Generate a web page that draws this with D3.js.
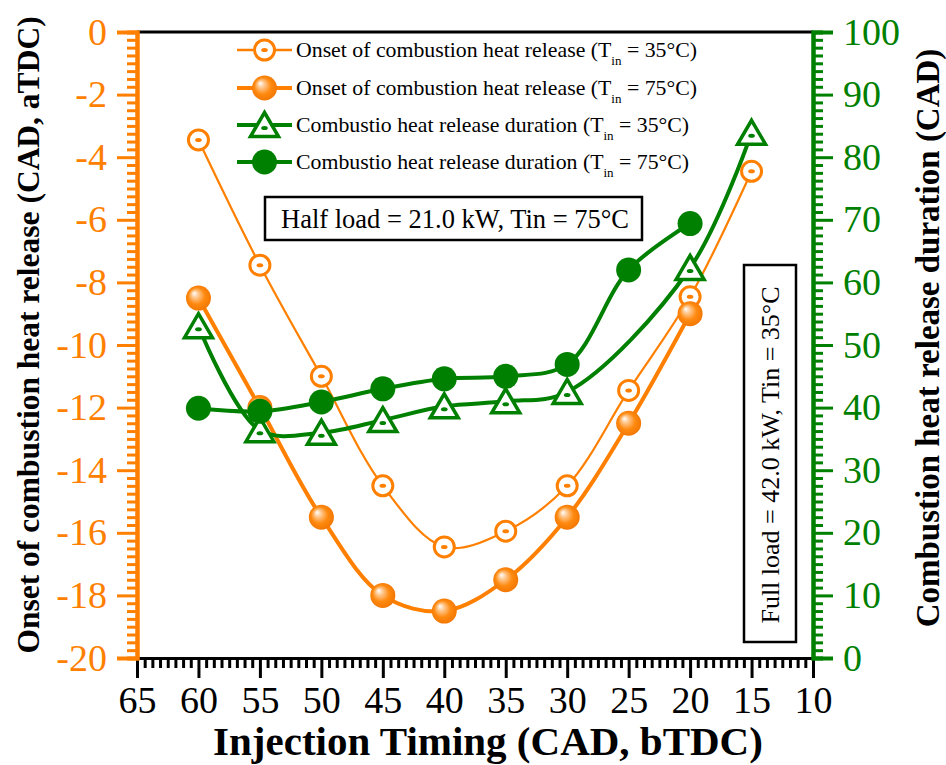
<!DOCTYPE html>
<html>
<head>
<meta charset="utf-8">
<script src="https://cdn.jsdelivr.net/npm/d3@7"></script>
<style>
  html, body { margin: 0; padding: 0; background: #fff; }
  svg { display: block; }
  text { font-family: "Liberation Serif", "Times New Roman", serif; }
</style>
</head>
<body>
<svg id="chart" width="946" height="765"></svg>
<script>
// ---------------- data ----------------
const xTickValues = [65, 60, 55, 50, 45, 40, 35, 30, 25, 20, 15, 10];
const yLeftTicks = [0, -2, -4, -6, -8, -10, -12, -14, -16, -18, -20];
const yRightTicks = [0, 10, 20, 30, 40, 50, 60, 70, 80, 90, 100];

const onsetTiming35 = [60, 55, 50, 45, 40, 35, 30, 25, 20, 15];
const onset35 = [-3.45, -7.45, -11.0, -14.5, -16.45, -15.95, -14.5, -11.45, -8.46, -4.45];

const onsetTiming75 = [60, 55, 50, 45, 40, 35, 30, 25, 20];
const onset75 = [-8.5, -12.0, -15.5, -18.0, -18.5, -17.5, -15.5, -12.5, -9.0];

const durTiming35 = [60, 55, 50, 45, 40, 35, 30, 20, 15];
const duration35 = [53.0, 36.4, 36.0, 38.0, 40.2, 41.0, 42.5, 62.3, 83.9];

const durTiming75 = [60, 55, 50, 45, 40, 35, 30, 25, 20];
const duration75 = [39.9, 39.4, 40.9, 43.0, 44.6, 45.0, 46.9, 62.0, 69.4];

const legendLabels = [
  ["Onset of combustion heat release (T", "in", " = 35°C)"],
  ["Onset of combustion heat release (T", "in", " = 75°C)"],
  ["Combustio heat release duration (T", "in", " = 35°C)"],
  ["Combustio heat release duration (T", "in", " = 75°C)"]
];
const halfLoadText = "Half load = 21.0 kW, Tin = 75°C";
const fullLoadText = "Full load = 42.0 kW, Tin = 35°C";
const xTitle = "Injection Timing (CAD, bTDC)";
const yLeftTitle = "Onset of combustion heat release (CAD, aTDC)";
const yRightTitle = "Combustion heat release duration (CAD)";

// ---------------- layout ----------------
const ORANGE = "#FF8000";
const GREEN = "#008000";
const L = 137, R = 813, T = 32, B = 658;

const svg = d3.select("#chart");

const x = d3.scaleLinear().domain([65, 10]).range([L, R]);
const yL = d3.scaleLinear().domain([0, -20]).range([T, B]);
const yR = d3.scaleLinear().domain([0, 100]).range([B, T]);

const fmt = d => String(d);  // plain hyphen-minus like the original

// gradient for shaded balls
const defs = svg.append("defs");
const grad = defs.append("radialGradient").attr("id", "ball")
  .attr("cx", "50%").attr("cy", "50%").attr("r", "55%")
  .attr("fx", "32%").attr("fy", "30%");
grad.append("stop").attr("offset", "0%").attr("stop-color", "#ffffff");
grad.append("stop").attr("offset", "25%").attr("stop-color", "#ffc890");
grad.append("stop").attr("offset", "60%").attr("stop-color", "#ff8a10");
grad.append("stop").attr("offset", "100%").attr("stop-color", "#f07400");

// ---------------- axes ----------------
function minorTicks(domainMin, domainMax, step) {
  const out = [];
  const n = Math.round((domainMax - domainMin) / step);
  for (let i = 0; i <= n; i++) out.push(+(domainMin + i * step).toFixed(4));
  return out;
}

// top border
svg.append("line").attr("x1", L).attr("x2", R).attr("y1", T).attr("y2", T)
  .attr("stroke", "#000").attr("stroke-width", 3);

// bottom axis
const xMinor = minorTicks(10, 65, 0.625).filter(v => xTickValues.indexOf(v) < 0);
const gxMinor = svg.append("g").attr("transform", `translate(0,${B})`)
  .call(d3.axisBottom(x).tickValues(xMinor).tickSize(10).tickFormat(""));
const gx = svg.append("g").attr("transform", `translate(0,${B})`)
  .call(d3.axisBottom(x).tickValues(xTickValues).tickSize(20).tickPadding(8).tickFormat(fmt));
[gxMinor, gx].forEach(g => {
  g.select(".domain").attr("stroke", "#000").attr("stroke-width", 3);
  g.selectAll(".tick line").attr("stroke", "#000").attr("stroke-width", 3);
});
gx.selectAll(".tick text").attr("fill", "#000").style("font-size", "38px");

// left axis
const yLMinor = minorTicks(-20, 0, 0.25).filter(v => yLeftTicks.indexOf(v) < 0);
const gyLMinor = svg.append("g").attr("transform", `translate(${L},0)`)
  .call(d3.axisLeft(yL).tickValues(yLMinor).tickSize(10).tickFormat(""));
const gyL = svg.append("g").attr("transform", `translate(${L},0)`)
  .call(d3.axisLeft(yL).tickValues(yLeftTicks).tickSize(20).tickPadding(10).tickFormat(fmt));
[gyLMinor, gyL].forEach(g => {
  g.select(".domain").attr("stroke", ORANGE).attr("stroke-width", 4);
  g.selectAll(".tick line").attr("stroke", ORANGE).attr("stroke-width", 3);
});
gyL.selectAll(".tick text").attr("fill", ORANGE).style("font-size", "38px");

// right axis
const yRMinor = minorTicks(0, 100, 1.25).filter(v => yRightTicks.indexOf(v) < 0);
const gyRMinor = svg.append("g").attr("transform", `translate(${R},0)`)
  .call(d3.axisRight(yR).tickValues(yRMinor).tickSize(10).tickFormat(""));
const gyR = svg.append("g").attr("transform", `translate(${R},0)`)
  .call(d3.axisRight(yR).tickValues(yRightTicks).tickSize(20).tickPadding(10).tickFormat(fmt));
[gyRMinor, gyR].forEach(g => {
  g.select(".domain").attr("stroke", GREEN).attr("stroke-width", 4);
  g.selectAll(".tick line").attr("stroke", GREEN).attr("stroke-width", 3);
});
gyR.selectAll(".tick text").attr("fill", GREEN).style("font-size", "38px");

// axis titles
svg.append("text").attr("x", 488).attr("y", 755).attr("text-anchor", "middle")
  .style("font-size", "41px").style("font-weight", "bold").text(xTitle);
svg.append("text").attr("transform", `translate(39,335) rotate(-90)`)
  .attr("text-anchor", "middle").style("font-size", "31.5px").style("font-weight", "bold").text(yLeftTitle);
svg.append("text").attr("transform", `translate(939,338) rotate(-90)`)
  .attr("text-anchor", "middle").style("font-size", "33px").style("font-weight", "bold").text(yRightTitle);

// ---------------- series ----------------
const curve = d3.curveCatmullRom.alpha(0.5);
function drawLine(xs, ys, yScale, color, width) {
  const pts = xs.map((d, i) => [x(d), yScale(ys[i])]);
  svg.append("path").attr("d", d3.line().curve(curve)(pts))
    .attr("fill", "none").attr("stroke", color).attr("stroke-width", width);
}
drawLine(onsetTiming35, onset35, yL, ORANGE, 2.2);
drawLine(onsetTiming75, onset75, yL, ORANGE, 4);
drawLine(durTiming35, duration35, yR, GREEN, 4);
drawLine(durTiming75, duration75, yR, GREEN, 4);

// marker helpers
function openCircle(g, cx, cy) {
  g.append("circle").attr("cx", cx).attr("cy", cy).attr("r", 10)
    .attr("fill", "#fff").attr("stroke", ORANGE).attr("stroke-width", 3);
  g.append("ellipse").attr("cx", cx).attr("cy", cy).attr("rx", 3.3).attr("ry", 2)
    .attr("fill", ORANGE);
}
function ball(g, cx, cy) {
  g.append("circle").attr("cx", cx).attr("cy", cy).attr("r", 12.5)
    .attr("fill", "url(#ball)");
}
function triangle(g, cx, cy) {
  const h = 23, w = 28;
  const p = `M${cx},${cy - h / 2 - 1}L${cx + w / 2},${cy + h / 2}L${cx - w / 2},${cy + h / 2}Z`;
  g.append("path").attr("d", p).attr("fill", "#fff").attr("stroke", GREEN)
    .attr("stroke-width", 3.5).attr("stroke-linejoin", "miter");
  g.append("ellipse").attr("cx", cx).attr("cy", cy + 3).attr("rx", 3.3).attr("ry", 2)
    .attr("fill", GREEN);
}
function dot(g, cx, cy) {
  g.append("circle").attr("cx", cx).attr("cy", cy).attr("r", 12.5).attr("fill", GREEN);
}

const gm = svg.append("g");
onsetTiming35.forEach((d, i) => openCircle(gm, x(d), yL(onset35[i])));
onsetTiming75.forEach((d, i) => ball(gm, x(d), yL(onset75[i])));
durTiming35.forEach((d, i) => triangle(gm, x(d), yR(duration35[i])));
durTiming75.forEach((d, i) => dot(gm, x(d), yR(duration75[i])));

// ---------------- legend ----------------
const legendRows = [50, 88, 125, 162];
const legendMarkers = [openCircle, ball, triangle, dot];
const legendColors = [ORANGE, ORANGE, GREEN, GREEN];
const legendWidths = [2.5, 4, 4, 4];
legendRows.forEach((ly, i) => {
  const g = svg.append("g");
  g.append("line").attr("x1", 237).attr("x2", 292).attr("y1", ly).attr("y2", ly)
    .attr("stroke", legendColors[i]).attr("stroke-width", legendWidths[i]);
  legendMarkers[i](g, 264.5, ly);
  const t = g.append("text").attr("x", 296).attr("y", ly + 7).style("font-size", "21.8px");
  t.append("tspan").text(legendLabels[i][0]);
  t.append("tspan").attr("dy", 8).style("font-size", "13px").text(legendLabels[i][1]);
  t.append("tspan").attr("dy", -8).text(legendLabels[i][2]);
});

// ---------------- annotation boxes ----------------
svg.append("rect").attr("x", 265).attr("y", 197).attr("width", 377).attr("height", 43)
  .attr("fill", "#fff").attr("stroke", "#000").attr("stroke-width", 2.5);
svg.append("text").attr("x", 455).attr("y", 228).attr("text-anchor", "middle")
  .style("font-size", "26.5px").text(halfLoadText);

svg.append("rect").attr("x", 744).attr("y", 265).attr("width", 52).attr("height", 377)
  .attr("fill", "#fff").attr("stroke", "#000").attr("stroke-width", 2.5);
svg.append("text").attr("transform", `translate(779,455) rotate(-90)`).attr("text-anchor", "middle")
  .style("font-size", "26px").text(fullLoadText);
</script>
</body>
</html>
